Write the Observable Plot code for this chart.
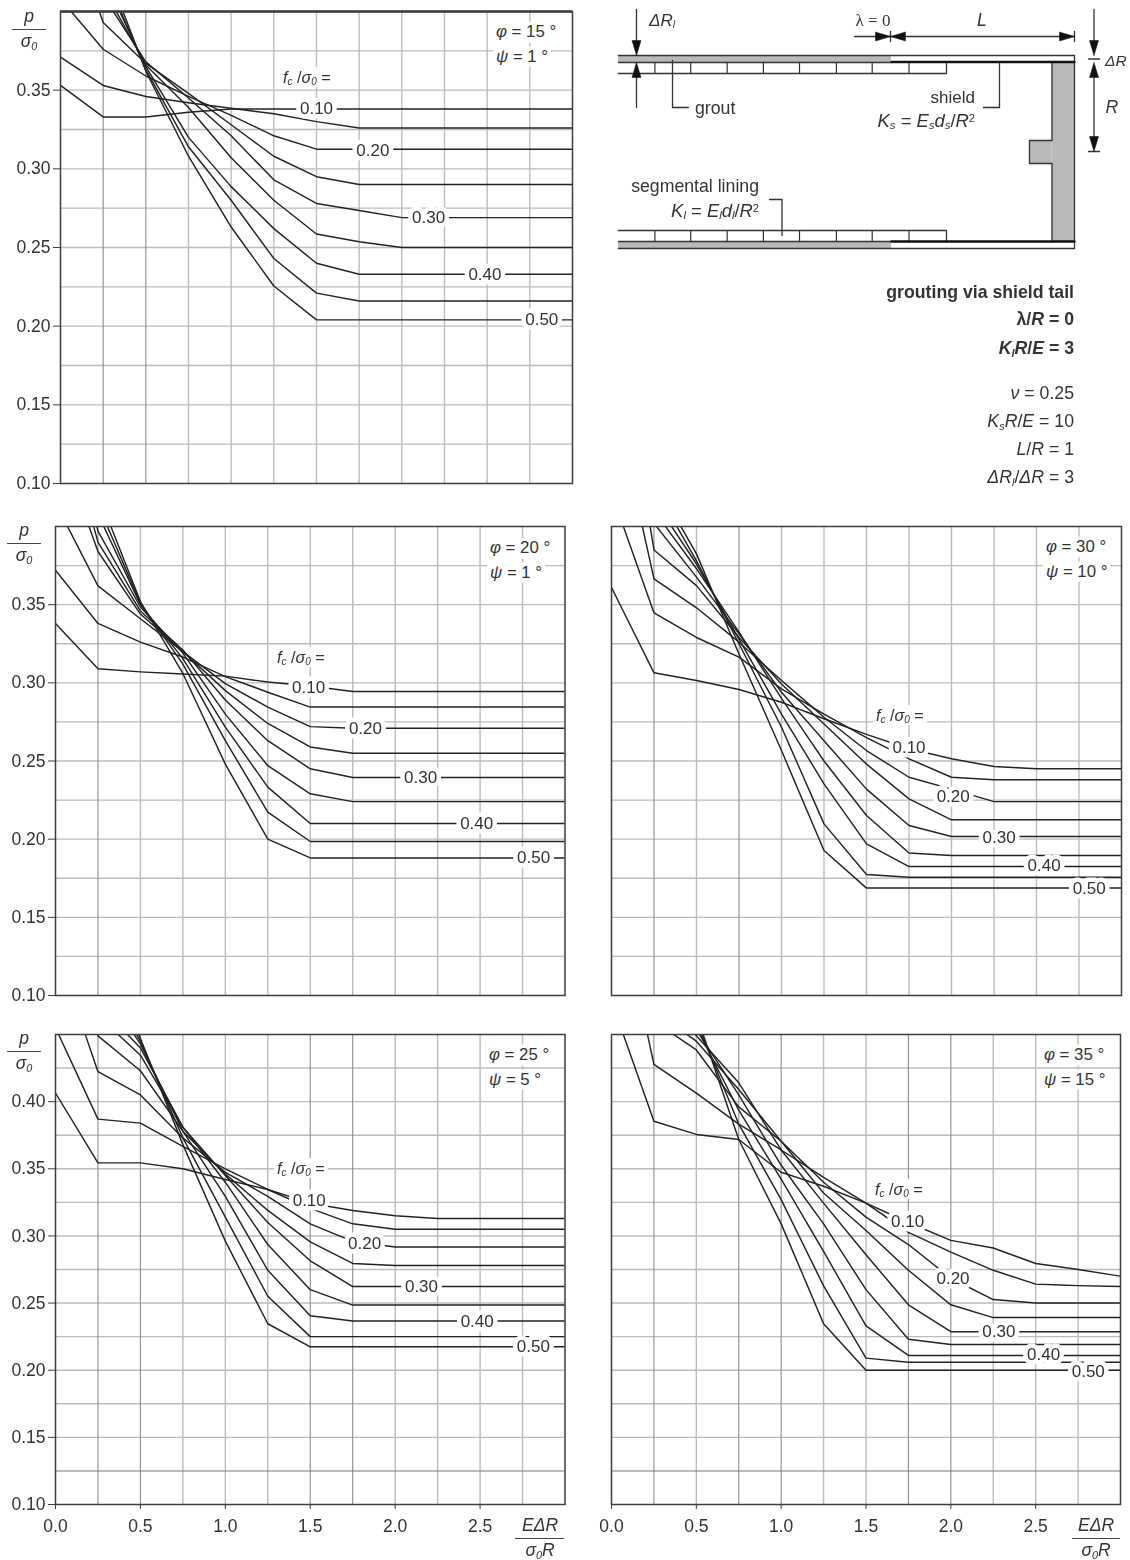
<!DOCTYPE html>
<html><head><meta charset="utf-8">
<script src="https://cdn.jsdelivr.net/npm/d3@7"></script>
<script src="https://cdn.jsdelivr.net/npm/@observablehq/plot@0.6"></script>
<style>
html,body{margin:0;padding:0;background:#fff}
#page{position:relative;width:1130px;height:1560px;overflow:hidden;font-family:"Liberation Sans",Arial,sans-serif;color:#333;filter:blur(.5px)}
#page svg{position:absolute;background:transparent;overflow:visible}
.t{position:absolute;white-space:nowrap;line-height:1;font-size:15px}
.t i{font-style:italic}
.t sub{font-size:.62em;vertical-align:-.22em;line-height:0;font-style:italic}
.t sup{font-size:.6em;vertical-align:.45em;line-height:0}
.patch{background:#fff;padding:2px 3px}
.rule{position:absolute;height:1.4px;background:#444}
</style></head><body><div id="page"></div>
<script>
// shared abscissae of the curves
const xSteps = [0,0.25,0.5,0.75,1,1.25,1.5,1.75,2,2.25,2.5,2.75,3];
const gridX = [0.25,0.5,0.75,1,1.25,1.5,1.75,2,2.25,2.5,2.75];
const fcValues = [0.10,0.15,0.20,0.25,0.30,0.35,0.40,0.45,0.50];
const labelTexts = ["0.10","0.20","0.30","0.40","0.50"];
const xTickValues = [0,0.5,1,1.5,2,2.5];

// phi = 15, psi = 1 : one row per fc/sigma0, the last value holds on to the right edge
const phi15 = [
 [.353,.333,.333,.336,.338],
 [.371,.353,.346,.342,.3385,.335,.330,.326],
 [.408,.376,.359,.346,.334,.321,.3125],
 [.47,.393,.367,.348,.328,.308,.295,.290],
 [.52,.41,.368,.345,.321,.293,.278,.2735,.269],
 [.56,.415,.366,.339,.307,.280,.2586,.2537,.250],
 [.60,.422,.365,.320,.2887,.262,.240,.233],
 [.62,.426,.363,.314,.280,.243,.221,.216],
 [.65,.433,.362,.308,.263,.2255,.204]];
const phi15Labels = [[1.5,.338],[1.83,.3115],[2.157,.269],[2.487,.233],[2.82,.204]];

// phi = 20, psi = 1
const phi20 = [
 [.338,.309,.307,.3056,.3043,.3005,.298,.2945],
 [.372,.338,.326,.3165,.304,.294,.2845],
 [.415,.362,.341,.32,.2995,.2845,.272,.271],
 [.46,.384,.344,.32,.295,.274,.259,.255],
 [.49,.39,.346,.321,.289,.263,.245,.2395],
 [.51,.397,.3485,.319,.28,.247,.229,.224],
 [.53,.408,.35,.3155,.2717,.2333,.21],
 [.56,.414,.351,.312,.263,.2173,.1985],
 [.58,.421,.352,.306,.248,.2,.188]];
const phi20Labels = [[1.49,.2967],[1.825,.271],[2.15,.2395],[2.48,.21],[2.815,.188]];

// phi = 30, psi = 10
const phi30 = [
 [.361,.3064,.3015,.2957,.2876,.277,.267,.2578,.2514,.2465,.245],
 [.4215,.3447,.329,.3164,.2961,.28,.265,.2514,.2396,.238],
 [.489,.3665,.348,.326,.3015,.278,.2567,.2396,.232,.224],
 [.55,.385,.3622,.329,.2993,.2737,.248,.2258,.2124],
 [.56,.402,.3676,.3313,.294,.263,.232,.2087,.2017],
 [.58,.41,.373,.3324,.29,.25,.2151,.1912,.1895],
 [.60,.417,.376,.328,.28,.2354,.197,.1825],
 [.62,.4255,.378,.325,.2716,.2098,.1774,.1757],
 [.64,.43,.3825,.3185,.2567,.1927,.1687]];
const phi30Labels = [[1.75,.2588],[2.01,.2273],[2.28,.2008],[2.545,.1832],[2.81,.1682]];

// phi = 25, psi = 5
const phi25 = [
 [.4064,.3544,.3544,.35,.342,.3346,.3244,.319,.315,.313],
 [.455,.387,.384,.3667,.35,.3346,.3205,.309,.305],
 [.515,.4223,.405,.373,.3474,.3295,.309,.296,.2918],
 [.60,.449,.423,.378,.346,.319,.2956,.2795,.278],
 [.62,.464,.4346,.381,.345,.31,.2815,.2623],
 [.64,.473,.44,.381,.34,.2936,.26,.2485],
 [.70,.49,.443,.378,.3295,.2744,.2405,.2367],
 [.72,.50,.445,.373,.314,.2551,.225],
 [.74,.52,.447,.368,.2961,.2346,.2174]];
const phi25Labels = [[1.494,.3264],[1.82,.294],[2.155,.2623],[2.483,.2364],[2.814,.2177]];

// phi = 35, psi = 15
const phi35 = [
 [.475,.3854,.3756,.3718,.3474,.337,.3244,.31,.2967,.291,.2795,.275,.27],
 [.575,.4277,.4064,.3833,.364,.3436,.3244,.3026,.288,.2744,.2641,.263,.2623],
 [.60,.46,.4385,.3961,.3705,.34,.314,.2936,.2685,.2526,.25],
 [.63,.4675,.445,.409,.3705,.332,.304,.2744,.2487,.2392],
 [.65,.48,.449,.414,.364,.3244,.286,.2487,.2287],
 [.68,.50,.4535,.405,.3526,.309,.26,.223,.2192],
 [.70,.51,.4555,.3936,.3423,.2885,.233,.211],
 [.72,.52,.46,.3833,.327,.2628,.209,.206],
 [.74,.54,.465,.3718,.309,.2346,.2]];
const phi35Labels = [[1.745,.311],[2.013,.2685],[2.283,.2287],[2.547,.2115],[2.81,.1992]];

const panels = [
 {curves:phi15,labels:phi15Labels,box:[60,572,11,483],yMax:.40,yTicks:[.10,.15,.20,.25,.30,.35],xAxis:false,darkX:[.25,.5],darkY:[],topRule:2.4,
  phi:"15",psi:"1",note:[496,32],fc:[283,77]},
 {curves:phi20,labels:phi20Labels,box:[55,564.5,526,995],yMax:.40,yTicks:[.10,.15,.20,.25,.30,.35],xAxis:false,darkX:[.25],darkY:[],topRule:0,
  phi:"20",psi:"1",note:[490,548],fc:[277,657]},
 {curves:phi30,labels:phi30Labels,box:[611,1121,526,995],yMax:.40,yTicks:[],xAxis:false,darkX:[.25,.75],darkY:[],topRule:0,
  phi:"30",psi:"10",note:[1046,547],fc:[876,715]},
 {curves:phi25,labels:phi25Labels,box:[55,564.5,1034,1504],yMax:.45,yTicks:[.10,.15,.20,.25,.30,.35,.40],xAxis:true,darkX:[.25,.5,1.5,1.75],darkY:[.125],topRule:0,
  phi:"25",psi:"5",note:[489,1055],fc:[277,1168]},
 {curves:phi35,labels:phi35Labels,box:[611,1120,1034,1504],yMax:.45,yTicks:[],xAxis:true,darkX:[.25,.75,1,1.75,2],darkY:[.125],topRule:0,
  phi:"35",psi:"15",note:[1044,1055],fc:[875,1189]}
];

const page = document.getElementById("page");
const ink = "#222", fontFamily = '"Liberation Sans",Arial,sans-serif';

function put(x,y,html,opts={}){
  const d=document.createElement("div");
  d.className="t "+(opts.cls||"");
  d.style.left=x+"px"; d.style.top=y+"px";
  const ax=opts.anchor==="end"?"-100%":opts.anchor==="middle"?"-50%":"0";
  d.style.transform=`translate(${ax},-50%)`;
  if(opts.size) d.style.fontSize=opts.size+"px";
  if(opts.weight) d.style.fontWeight=opts.weight;
  if(opts.family) d.style.fontFamily=opts.family;
  d.innerHTML=html; page.appendChild(d); return d;
}
function hrule(x1,x2,y){
  const d=document.createElement("div"); d.className="rule";
  d.style.left=x1+"px"; d.style.top=y+"px"; d.style.width=(x2-x1)+"px"; page.appendChild(d);
}

function drawPanel(p){
  const [left,right,top,bottom]=p.box, mL=60,mR=10,mT=20,mB=40;
  const rows=p.curves.flatMap((vals,c)=>[
    ...vals.map((v,i)=>({x:xSteps[i],y:v,fc:fcValues[c]})),
    {x:3,y:vals[vals.length-1],fc:fcValues[c]}]);
  const gridY=d3.range(1,Math.round((p.yMax-.1)/.025)).map(k=>+(.1+k*.025).toFixed(3));
  const labels=p.labels.map((l,i)=>({x:l[0],y:l[1],t:labelTexts[i]}));
  const marks=[
    Plot.ruleX(gridX.filter(v=>!p.darkX.includes(v)),{stroke:"#bcbcbc",strokeWidth:1.4}),
    Plot.ruleY(gridY.filter(v=>!p.darkY.includes(v)),{stroke:"#bcbcbc",strokeWidth:1.4}),
    Plot.ruleX(p.darkX,{stroke:"#8c8c8c",strokeWidth:1.1}),
    Plot.ruleY(p.darkY,{stroke:"#777",strokeWidth:1.1}),
    Plot.line(rows,{x:"x",y:"y",z:"fc",stroke:ink,strokeWidth:1.45,clip:"frame",curve:"linear"}),
    Plot.text(labels,{x:"x",y:"y",text:"t",fill:"#333",stroke:"#fff",strokeWidth:9,fontSize:17,fontFamily}),
    Plot.frame({stroke:"#3c3c3c",strokeWidth:1.5})
  ];
  if(p.topRule) marks.push(Plot.ruleY([p.yMax],{stroke:"#3c3c3c",strokeWidth:p.topRule}));
  if(p.yTicks.length) marks.push(Plot.axisY({ticks:p.yTicks,tickFormat:".2f",tickSize:7,tickPadding:3,fontSize:17.5,label:null,stroke:"#3c3c3c",fill:"#333",fontFamily}));
  if(p.xAxis) marks.push(Plot.axisX({ticks:xTickValues,tickFormat:".1f",tickSize:5,tickPadding:10,fontSize:17.5,label:null,stroke:"#3c3c3c",fill:"#333",fontFamily}));
  const svg=Plot.plot({
    width:right-left+mL+mR,height:bottom-top+mT+mB,
    marginLeft:mL,marginRight:mR,marginTop:mT,marginBottom:mB,
    x:{domain:[0,3],axis:null},y:{domain:[.1,p.yMax],axis:null},
    style:{background:"transparent",overflow:"visible"},marks
  });
  svg.style.left=(left-mL)+"px"; svg.style.top=(top-mT)+"px";
  page.appendChild(svg);
  put(p.note[0]-3,p.note[1],`<i>φ</i> = ${p.phi} °`,{cls:"patch",size:16.8});
  put(p.note[0]-3,p.note[1]+24.5,`<i>ψ</i> = ${p.psi} °`,{cls:"patch",size:16.8});
  put(p.fc[0]-3,p.fc[1],`<i>f</i><sub>c</sub> /<i>σ</i><sub>0</sub> =`,{cls:"patch",size:16.2});
}
panels.forEach(drawPanel);

// axis fractions
function fraction(cx,x1,x2,y,top,bot){
  hrule(x1,x2,y);
  put(cx,y-12,top,{anchor:"middle",size:17.5});
  put(cx,y+13,bot,{anchor:"middle",size:17.5});
}
const sig0='<i>σ<sub>0</sub></i>';
fraction(29,12,46,29,'<i>p</i>',sig0);
fraction(24,7,41,543,'<i>p</i>',sig0);
fraction(24,7,41,1051,'<i>p</i>',sig0);
fraction(540,515,564,1538,'<i>EΔR</i>',sig0+'<i>R</i>');
fraction(1096,1072,1120,1538,'<i>EΔR</i>',sig0+'<i>R</i>');

// tunnel schematic: geometry of the sketch, in page units
const greyBands=[[618,891,55.5,62],[618,891,241.5,248],[1051.5,1074,62,241],[1029,1051.5,140,163]];
const liningJoints=[654.4,690.2,726.7,762.9,799,835.9,871.7,908.5];
const thinPaths=[
 [[618,55],[1074,55],[1074,248],[618,248]],
 [[618,62],[891,62]],[[618,73],[946,73],[946,62]],
 [[618,230],[946,230],[946,241]],[[618,241],[891,241]],
 [[1051.5,62],[1051.5,140],[1029,140],[1029,163],[1051.5,163],[1051.5,241]],
 [[672,60],[672,107],[688,107]],[[999,62],[999,107],[983,107]],[[769,199],[781.5,199],[781.5,235]],
 [[636,9],[636,44]],[[636,72],[636,107]],
 [[854,36],[1074,36]],[[890,31],[890,41]],[[1074,31],[1074,41]],
 [[1093.5,9],[1093.5,44]],[[1093.5,72],[1093.5,140]],[[1088,151],[1099,151]],[[1088,58.5],[1099,58.5]]
];
const heavyPaths=[[[891,61.5],[1074,61.5]],[[891,241],[1074,241]]];
const arrowTips=[[636,55,"d"],[636,62,"u"],[1093.5,55,"d"],[1093.5,62,"u"],[1093.5,151,"d"],[890,36,"r"],[890,36,"l"],[1074,36,"r"]];

function drawSketch(){
  const toRows=(ps)=>ps.flatMap((pts,id)=>pts.map(([x,y])=>({x,y,id})));
  const tri=arrowTips.flatMap(([x,y,dir],id)=>{
    const a=15,b=4.5;
    const pts=dir==="d"?[[x,y],[x-b,y-a],[x+b,y-a]]:dir==="u"?[[x,y],[x-b,y+a],[x+b,y+a]]
      :dir==="r"?[[x,y],[x-a,y-b],[x-a,y+b]]:[[x,y],[x+a,y-b],[x+a,y+b]];
    return [...pts,pts[0]].map(([px,py])=>({x:px,y:py,id}));
  });
  const joints=[...liningJoints.map(x=>({x,y1:62,y2:73})),...liningJoints.map(x=>({x,y1:230,y2:241}))];
  const svg=Plot.plot({
    width:540,height:270,margin:0,
    x:{domain:[590,1130],axis:null},y:{domain:[0,270],range:[0,270],axis:null},
    style:{background:"transparent",overflow:"visible"},
    marks:[
      Plot.rect(greyBands,{x1:d=>d[0],x2:d=>d[1],y1:d=>d[2],y2:d=>d[3],fill:"#b9b9b9"}),
      Plot.line(toRows(thinPaths),{x:"x",y:"y",z:"id",stroke:"#333",strokeWidth:1.3}),
      Plot.ruleX(joints,{x:"x",y1:"y1",y2:"y2",stroke:"#333",strokeWidth:1.2}),
      Plot.line(toRows(heavyPaths),{x:"x",y:"y",z:"id",stroke:"#111",strokeWidth:2.4}),
      Plot.line(tri,{x:"x",y:"y",z:"id",fill:"#111",stroke:"#111",strokeWidth:.5})
    ]
  });
  svg.style.left="590px"; svg.style.top="0px"; page.appendChild(svg);
}
drawSketch();

const sz=17.7;
put(649,20,'<i>ΔR<sub>l</sub></i>',{size:17});
put(873,20,'λ = 0',{anchor:"middle",size:17,family:'"Liberation Serif",serif'});
put(982,21,'<i>L</i>',{anchor:"middle",size:sz});
put(1105,61,'<i>ΔR</i>',{size:15.5});
put(1112,108,'<i>R</i>',{anchor:"middle",size:sz});
put(695,109,'grout',{size:sz});
put(975,97,'shield',{anchor:"end",size:17});
put(975,121,'<i>K<sub>s</sub></i> = <i>E<sub>s</sub>d<sub>s</sub></i>/<i>R</i><sup>2</sup>',{anchor:"end",size:18.4});
put(759,187,'segmental lining',{anchor:"end",size:sz});
put(759,211,'<i>K<sub>l</sub></i> = <i>E<sub>l</sub>d<sub>l</sub></i>/<i>R</i><sup>2</sup>',{anchor:"end",size:18.4});

put(1074,293,'grouting via shield tail',{anchor:"end",size:sz,weight:700});
put(1074,320,'λ/<i>R</i> = 0',{anchor:"end",size:sz,weight:700});
put(1074,349,'<i>K<sub>l</sub>R</i>/<i>E</i> = 3',{anchor:"end",size:sz,weight:700});
put(1074,394,'<i>ν</i> = 0.25',{anchor:"end",size:sz});
put(1074,422,'<i>K<sub>s</sub>R</i>/<i>E</i> = 10',{anchor:"end",size:sz});
put(1074,450,'<i>L</i>/<i>R</i> = 1',{anchor:"end",size:sz});
put(1074,478,'<i>ΔR<sub>l</sub></i>/<i>ΔR</i> = 3',{anchor:"end",size:sz});
</script></body></html>
